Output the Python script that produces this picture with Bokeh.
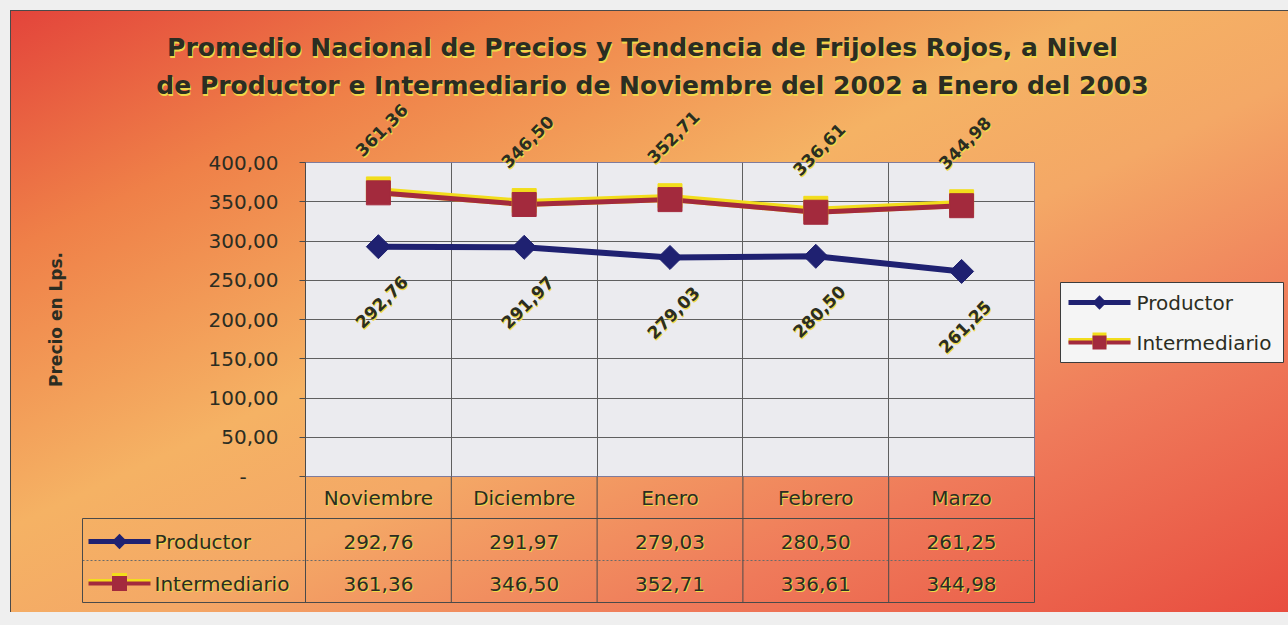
import numpy as np
from bokeh.plotting import figure
from bokeh.models import ColumnDataSource, Range1d, FixedTicker, Grid
from bokeh.transform import dodge
from bokeh.core.properties import value
from bokeh.embed import file_html
from bokeh.resources import INLINE

# ---------------- data ----------------
CATEGORIES = ["Noviembre", "Diciembre", "Enero", "Febrero", "Marzo"]
PRODUCTOR = [292.76, 291.97, 279.03, 280.50, 261.25]
INTERMEDIARIO = [361.36, 346.50, 352.71, 336.61, 344.98]
SERIES = ["Productor", "Intermediario"]
Y_TICKS = [0, 50, 100, 150, 200, 250, 300, 350, 400]
Y_TICK_LABELS = ["-", "50,00", "100,00", "150,00", "200,00", "250,00",
                 "300,00", "350,00", "400,00"]
TITLE = ["Promedio Nacional de Precios y Tendencia de Frijoles Rojos, a Nivel",
         "de Productor e Intermediario de Noviembre del 2002 a Enero del 2003"]
Y_LABEL = "Precio en Lps."


def fmt(v):
    return f"{v:.2f}".replace(".", ",")


# ---------------- layout / style ----------------
W, H = 1288, 625
FL, FR, FT, FB = 305, 1034, 162, 476          # plot-area frame (px)
TABLE_L, TABLE_B = 82, 602
FONT = "DejaVu Sans"
TXT = "#2b2d22"
SHADOW = "#f0d848"
NAVY = "#1f2171"
MAROON = "#a32a3d"
YELLOW = "#f2dd1c"
LINE = "#4a4a4a"

n = len(CATEGORIES)
X = [i + 0.5 for i in range(n)]
COLW = (FR - FL) / n
PPU = (FB - FT) / (Y_TICKS[-1] - Y_TICKS[0])   # px per y unit


def xpx(px):   # layout helper: page px -> x data units
    return (px - FL) / COLW


def ypx(py):   # layout helper: page px -> y data units
    return Y_TICKS[0] + (FB - py) / PPU


src = ColumnDataSource(dict(
    x=X, prod=PRODUCTOR, inter=INTERMEDIARIO,
    prod_lbl=[fmt(v) for v in PRODUCTOR],
    inter_lbl=[fmt(v) for v in INTERMEDIARIO],
))

GRAD = ("linear-gradient(to bottom right, #e3443b 0%, #ef8048 20%, #f5b264 43%, "
        "#f4a866 56%, #ef7a5a 76%, #e84d3f 100%)")
STYLES = {
    "background-color": "#efefef",
    "background-image": f"linear-gradient({LINE}, {LINE}), linear-gradient({LINE}, {LINE}), {GRAD}",
    "background-size": "1278px 1px, 1px 602px, 1278px 602px",
    "background-position": "10px 10px, 10px 10px, 10px 10px",
    "background-repeat": "no-repeat",
}

p = figure(width=W, height=H, x_range=Range1d(0, n),
           y_range=Range1d(Y_TICKS[0], Y_TICKS[-1]),
           x_axis_location=None, toolbar_location=None, output_backend="svg",
           min_border_left=FL, min_border_right=W - FR, min_border_top=FT,
           min_border_bottom=H - FB,
           background_fill_color="#ebebef", border_fill_alpha=0,
           outline_line_color="#7f7b9c", outline_line_width=1, styles=STYLES)

ax = p.yaxis[0]
ax.ticker = FixedTicker(ticks=Y_TICKS)
ax.major_label_overrides = {t: (l if l != "-" else l + "\u00a0" * 5)
                            for t, l in zip(Y_TICKS, Y_TICK_LABELS)}
ax.major_label_text_font = FONT
ax.major_label_text_font_size = "20px"
ax.major_label_text_color = TXT
ax.major_label_standoff = 21
ax.major_tick_out = 6
ax.major_tick_in = 0
ax.minor_tick_line_color = None
ax.axis_line_color = LINE
ax.major_tick_line_color = LINE
ax.axis_label = Y_LABEL
ax.axis_label_text_font = FONT
ax.axis_label_text_font_style = "bold"
ax.axis_label_text_font_size = "17px"
ax.axis_label_text_color = TXT
ax.axis_label_standoff = 140

p.ygrid.ticker = FixedTicker(ticks=Y_TICKS)
p.ygrid.grid_line_color = "#5f5f5f"
if len(p.xgrid) == 0:
    p.add_layout(Grid(dimension=0))
p.xgrid.ticker = FixedTicker(ticks=list(range(1, n)))
p.xgrid.grid_line_color = "#5f5f5f"

# ---------------- series ----------------
p.line("x", "prod", source=src, line_color=NAVY, line_width=6)
p.scatter("x", "prod", source=src, marker="square", angle=np.pi / 4, size=17, color=NAVY)
p.line(x="x", y=dodge("inter", 2.0), source=src, line_color=YELLOW, line_width=8)
p.line("x", "inter", source=src, line_color=MAROON, line_width=5)
p.scatter(x="x", y=dodge("inter", 5.0), source=src, marker="square", size=24, color=YELLOW)
p.scatter("x", "inter", source=src, marker="square", size=24, color=MAROON)

SH_DX, SH_DY = 1, 1.5   # shadow offset (px right, px down)


def stext(x, y, text, size="20px", style="normal", align="center", angle=0.0,
          source=None, shadow=True, color=TXT):
    """draw a text (optionally with a yellow drop shadow); glyphs at annotation level"""
    layers = [(SH_DX, SH_DY, SHADOW)] if shadow else []
    layers.append((0, 0, color))
    for dx, dy, col in layers:
        if source is None:
            kw = dict(x=[v + dx / COLW for v in x], y=[v - dy / PPU for v in y], text=text)
        else:
            kw = dict(x=dodge(x[0], x[1] + dx / COLW), y=dodge(y[0], y[1] - dy / PPU),
                      text=text, source=source)
        p.text(angle=angle, text_align=align, text_baseline="middle",
               text_font=value(FONT), text_font_style=style, text_font_size=size,
               text_color=col, level="annotation", **kw)


def key_marker(cx, cy, s, color, diamond):
    """marker drawn as a thick butt-capped segment (square, or square turned 45 deg)"""
    if diamond:
        h = s / (2 * np.sqrt(2))
        x0, y0, x1, y1 = cx - h / COLW, cy - h / PPU, cx + h / COLW, cy + h / PPU
    else:
        x0, y0, x1, y1 = cx - s / 2 / COLW, cy, cx + s / 2 / COLW, cy
    p.segment(x0=[x0], y0=[y0], x1=[x1], y1=[y1], line_color=color, line_width=s,
              line_cap="butt", level="annotation")


def swatch(x0px, x1px, ypos, kind, msize):
    """series key: line + marker (Productor: navy diamond, Intermediario: maroon/yellow square)"""
    a, b = xpx(x0px), xpx(x1px)
    c = (a + b) / 2
    if kind == 0:
        p.segment(x0=[a], y0=[ypos], x1=[b], y1=[ypos], line_color=NAVY, line_width=5,
                  level="annotation")
        key_marker(c, ypos, msize * 0.72, NAVY, True)
    else:
        p.segment(x0=[a], y0=[ypos + 2 / PPU], x1=[b], y1=[ypos + 2 / PPU],
                  line_color=YELLOW, line_width=5, level="annotation")
        p.segment(x0=[a], y0=[ypos], x1=[b], y1=[ypos], line_color=MAROON, line_width=4,
                  level="annotation")
        key_marker(c, ypos + 3 / PPU, msize, YELLOW, False)
        key_marker(c, ypos, msize, MAROON, False)


# title
for line, cy, cx in zip(TITLE, [47, 85], [642, 652]):
    stext([xpx(cx)], [ypx(cy)], [line], size="25px", style="bold")

# data labels
stext(("x", 3 / COLW), ("inter", 63 / PPU), "inter_lbl", size="17px", style="bold",
      angle=np.pi / 4, source=src)
stext(("x", 3 / COLW), ("prod", -55 / PPU), "prod_lbl", size="17px", style="bold",
      angle=np.pi / 4, source=src)

# ---------------- legend box ----------------
p.quad(left=[xpx(1060)], right=[xpx(1283)], top=[ypx(282)], bottom=[ypx(362)],
       fill_color="#f5f5f5", line_color="#3c3c3c", line_width=1, level="annotation")
LEG_Y = [ypx(302), ypx(342)]
for k in range(2):
    swatch(1068, 1130, LEG_Y[k], k, 14)
stext([xpx(1136)] * 2, LEG_Y, SERIES, align="left", shadow=False)

# ---------------- data table ----------------
ROW_Y = [ypx(497), ypx(541), ypx(583)]
stext(X, [ROW_Y[0]] * n, CATEGORIES)
stext(X, [ROW_Y[1]] * n, [fmt(v) for v in PRODUCTOR])
stext(X, [ROW_Y[2]] * n, [fmt(v) for v in INTERMEDIARIO])
stext([xpx(154)] * 2, ROW_Y[1:], SERIES, align="left")
for k in range(2):
    swatch(88, 150, ROW_Y[k + 1], k, 15)

tl, tr = xpx(TABLE_L), n
p.segment(x0=[tl, tl], y0=[ypx(518), ypx(TABLE_B)], x1=[tr, tr],
          y1=[ypx(518), ypx(TABLE_B)], line_color=LINE, line_width=1, level="annotation")
p.segment(x0=[tl], y0=[ypx(560)], x1=[tr], y1=[ypx(560)], line_color="#6a6a6a",
          line_dash="2 2", line_width=1, level="annotation")
bx = list(range(n + 1))
p.segment(x0=bx, y0=[ypx(TABLE_B)] * (n + 1), x1=bx, y1=[Y_TICKS[0]] * (n + 1),
          line_color=LINE, line_width=1, level="annotation")
p.segment(x0=[tl], y0=[ypx(TABLE_B)], x1=[tl], y1=[ypx(518)], line_color=LINE,
          line_width=1, level="annotation")

open("out.html", "w").write(file_html(p, INLINE))
